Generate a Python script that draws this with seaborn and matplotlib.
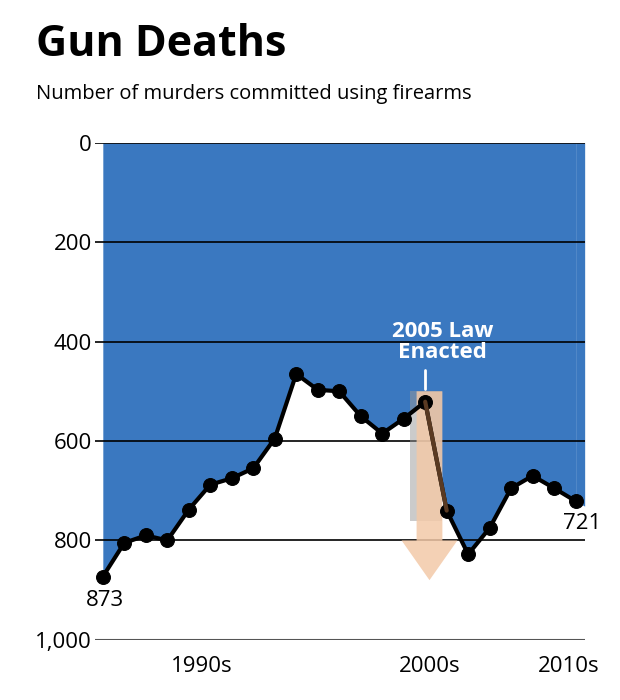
import matplotlib
matplotlib.use("Agg")
import matplotlib.pyplot as plt
import seaborn as sns
import pandas as pd
from matplotlib.patches import Polygon, Rectangle

# Florida gun deaths, 1990-2012
years = list(range(1990, 2013))
deaths = [873, 805, 790, 800, 738, 688, 675, 655, 595, 465, 497, 500, 550,
          585, 555, 521, 740, 828, 775, 695, 670, 695, 721]
y_ticks = [0, 200, 400, 600, 800, 1000]
y_labels = ["0", "200", "400", "600", "800", "1,000"]
x_tick_pos = [1994.6, 2005.2, 2011.7]
x_tick_labels = ["1990s", "2000s", "2010s"]

df = pd.DataFrame({"year": years, "deaths": deaths})

sns.set_style("white")
plt.rcParams["font.family"] = ["Open Sans", "DejaVu Sans"]
plt.rcParams["text.color"] = "black"
plt.rcParams["xtick.color"] = "black"
plt.rcParams["ytick.color"] = "black"

fig = plt.figure(figsize=(6.2, 7), dpi=100)
ax = fig.add_axes([0.153, 0.086, 0.79, 0.71])

blue = "#3a78c0"
ax.fill_between(df["year"], 0, df["deaths"], color=blue, zorder=1, lw=0)
# blue continues to the right edge of the plot
ax.fill_between([years[-1], 2012.42], 0, [deaths[-1], deaths[-1] + 10], color=blue, zorder=1, lw=0)

for v in y_ticks[:-1]:
    ax.axhline(v, color="black", lw=1.2, zorder=2)
ax.axhline(1000, color="#555555", lw=1.5, zorder=2)

# highlight around the 2005 law
ax.add_patch(Rectangle((2004.3, 500), 1.5, 260, color="#999999", alpha=0.5, zorder=3, lw=0))
arrow = Polygon([(2004.6, 500), (2005.8, 500), (2005.8, 800), (2006.5, 800),
                 (2005.2, 880), (2003.9, 800), (2004.6, 800)],
                closed=True, color="#f3c9a8", alpha=0.85, zorder=3, lw=0)
ax.add_patch(arrow)

sns.lineplot(data=df, x="year", y="deaths", ax=ax, color="black", lw=3,
             marker="o", markersize=10, markeredgecolor="black", zorder=5)
ax.plot([2005, 2006], [deaths[15], deaths[16]], color="#5a3a22", lw=3, zorder=6)

ax.plot([2005, 2005], [458, 495], color="white", lw=2, zorder=6)
ax.text(2005.8, 400, "2005 Law\nEnacted", color="white", fontsize=16,
        fontweight="bold", ha="center", va="center", linespacing=1.0, zorder=7)

ax.text(1990.1, 920, "873", fontsize=16, ha="center", va="center")
ax.text(2012.3, 765, "721", fontsize=16, ha="center", va="center")

ax.set_xlim(1989.63, 2012.42)
ax.set_ylim(1000, 0)
ax.set_yticks(y_ticks)
ax.set_yticklabels(y_labels, fontsize=16)
ax.set_xticks(x_tick_pos)
ax.set_xticklabels(x_tick_labels, fontsize=16)
ax.tick_params(axis="y", length=0, pad=2)
ax.tick_params(axis="x", direction="inout", length=16, width=1.5, color="#555555", pad=4)
ax.set_xlabel("")
ax.set_ylabel("")
for s in ax.spines.values():
    s.set_visible(False)

fig.text(0.058, 0.937, "Gun Deaths", fontsize=31, fontweight="bold", va="center", color="black")
fig.text(0.058, 0.866, "Number of murders committed using firearms", fontsize=14.5, va="center", color="black")

fig.savefig("out.png", dpi=100, facecolor="white")
